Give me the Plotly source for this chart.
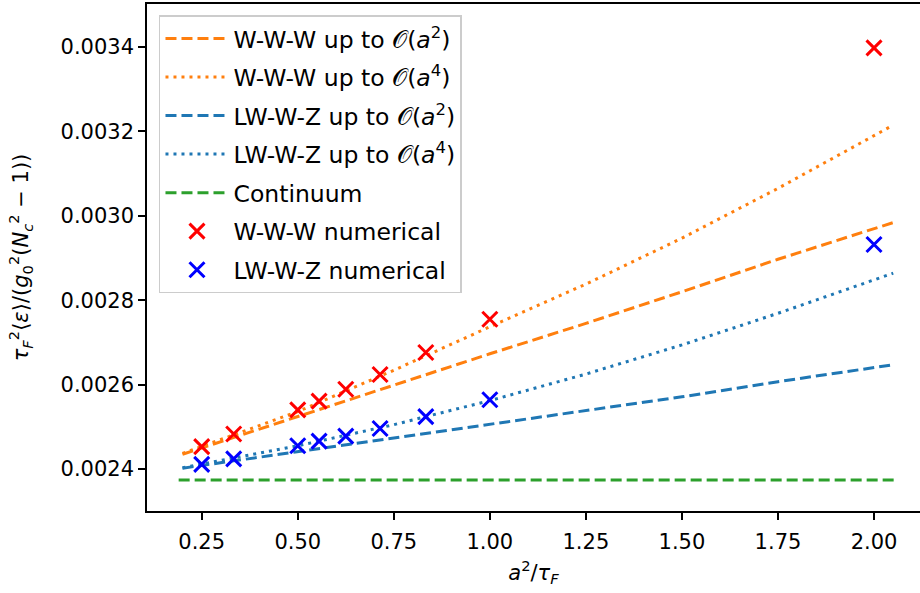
import plotly.graph_objects as go

# numerical data
x_num = [0.25, 1/3, 0.5, 1/1.8, 1/1.6, 1/1.4, 1/1.2, 1.0, 2.0]
www_num = [0.002453, 0.002483, 0.002540, 0.002561, 0.002589, 0.002624, 0.002676, 0.002755, 0.003398]
lwwz_num = [0.002411, 0.002424, 0.002455, 0.002466, 0.002478, 0.002496, 0.002524, 0.002564, 0.002932]

# analytic curves
x_line = [0.2, 0.5, 0.75, 1.0, 1.25, 1.5, 1.75, 2.05]
www_a2 = [0.002435, 0.002524, 0.002598, 0.002673, 0.002745, 0.002820, 0.002897, 0.002984]
www_a4 = [0.002437, 0.002536, 0.002634, 0.002737, 0.002838, 0.002947, 0.003065, 0.003215]
lwwz_a2 = [0.002402, 0.002441, 0.002474, 0.002507, 0.002540, 0.002571, 0.002607, 0.002647]
lwwz_a4 = [0.002403, 0.002455, 0.002505, 0.002562, 0.002625, 0.002694, 0.002769, 0.002864]
x_cont = [0.19, 2.06]
cont = [0.002374, 0.002374]

x_ticks = [0.25, 0.5, 0.75, 1.0, 1.25, 1.5, 1.75, 2.0]
y_ticks = [0.0024, 0.0026, 0.0028, 0.0030, 0.0032, 0.0034]

ORANGE = "#ff7f0e"
BLUE = "#1f77b4"
GREEN = "#2ca02c"
DASH = "11px,5px"
DOT = "3px,5px"
FONT = "DejaVu Sans"
TICK_SIZE = 21
LEG_SIZE = 23.5

O = "\U0001D4AA"

fig = go.Figure()

def line(x, y, name, color, dash, grp):
    fig.add_trace(go.Scatter(x=x, y=y, mode="lines", name=name, legendgroup=grp,
                             line=dict(color=color, width=3, dash=dash)))

line(x_line, www_a2, f"W-W-W up to {O}(<i>a</i><sup>2</sup>)", ORANGE, DASH, "g1")
line(x_line, www_a4, f"W-W-W up to {O}(<i>a</i><sup>4</sup>)", ORANGE, DOT, "g2")
line(x_line, lwwz_a2, f"LW-W-Z up to {O}(<i>a</i><sup>2</sup>)", BLUE, DASH, "g3")
line(x_line, lwwz_a4, f"LW-W-Z up to {O}(<i>a</i><sup>4</sup>)", BLUE, DOT, "g4")
line(x_cont, cont, "Continuum", GREEN, DASH, "g5")

def pts(x, y, name, color, grp):
    fig.add_trace(go.Scatter(x=x, y=y, mode="markers", name=name, legendgroup=grp,
                             marker=dict(symbol="x-thin", size=15,
                                         line=dict(width=3, color=color), color=color)))

pts(x_num, www_num, "W-W-W numerical", "#ff0000", "g6")
pts(x_num, lwwz_num, "LW-W-Z numerical", "#0000ff", "g7")

fig.update_layout(
    width=920, height=593,
    margin=dict(l=147, r=0, t=4, b=82),
    paper_bgcolor="white", plot_bgcolor="white",
    font=dict(family=FONT, size=TICK_SIZE, color="black"),
    showlegend=True,
    legend=dict(x=0.0155, y=0.978, xanchor="left", yanchor="top",
                bgcolor="rgba(255,255,255,0.8)", bordercolor="#cccccc", borderwidth=1.5,
                font=dict(family=FONT, size=LEG_SIZE), itemwidth=63,
                tracegroupgap=5, traceorder="grouped"),
    xaxis=dict(range=[0.1076, 2.1197], tickvals=x_ticks, tickformat=".2f",
               showgrid=False, zeroline=False, showline=True, linecolor="black",
               linewidth=1.6, mirror=True, ticks="outside", ticklen=7, tickwidth=1.6,
               tickcolor="black", ticklabelstandoff=4,
               title=dict(text="<i>a</i><sup>2</sup>/<i>τ</i><sub><i>F</i></sub>",
                          font=dict(size=TICK_SIZE), standoff=12)),
    yaxis=dict(range=[0.0023005, 0.0035019], tickvals=y_ticks, tickformat=".4f",
               showgrid=False, zeroline=False, showline=True, linecolor="black",
               linewidth=1.6, mirror=False, ticks="outside", ticklen=7, tickwidth=1.6,
               tickcolor="black",
               title=dict(text="<i>τ</i><sub><i>F</i></sub><sup>2</sup>⟨<i>ε</i>⟩/(<i>g</i><sub>0</sub><sup>2</sup>(<i>N</i><sub><i>c</i></sub><sup>2</sup> − 1))",
                          font=dict(size=TICK_SIZE), standoff=26)),
)

fig.write_html("out.html", config={"displayModeBar": False},
               post_script="document.body.style.margin='0';")
